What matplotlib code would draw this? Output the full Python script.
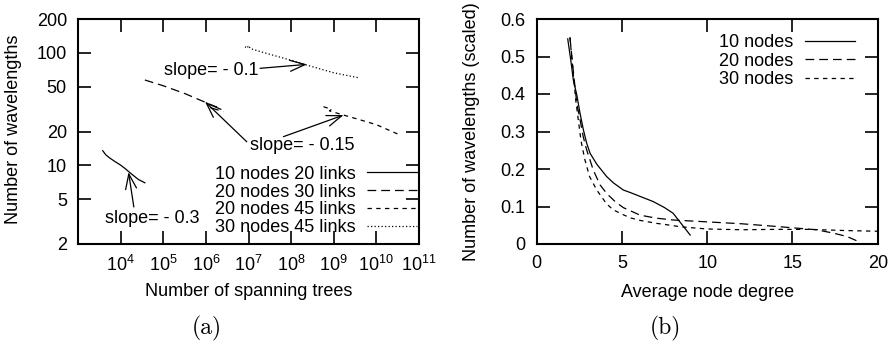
import matplotlib
matplotlib.use("Agg")
import matplotlib.pyplot as plt

plt.rcParams['font.family'] = ['Liberation Sans', 'DejaVu Sans']
plt.rcParams['mathtext.fontset'] = 'custom'
plt.rcParams['mathtext.rm'] = 'Liberation Sans'
plt.rcParams['mathtext.it'] = 'Liberation Sans:italic'
plt.rcParams['mathtext.bf'] = 'Liberation Sans:bold'
plt.rcParams['font.size'] = 13

# ---------------- data: panel (a) ----------------
a_labels = ["10 nodes 20 links", "20 nodes 30 links", "20 nodes 45 links", "30 nodes 45 links"]
a1_x = [3.8e3, 4.5e3, 5.6e3, 7.4e3, 9.8e3, 1.26e4, 1.66e4, 2.1e4, 2.6e4, 3.2e4, 3.7e4]
a1_y = [13.5, 12.4, 11.6, 10.8, 10.1, 9.4, 8.6, 8.0, 7.5, 7.2, 7.0]
a2_x = [3.7e4, 1.0e5, 3.2e5, 8.7e5, 1.1e6, 1.8e6, 1.3e6, 2.6e6]
a2_y = [57.4, 51.0, 43.5, 37.0, 35.5, 33.0, 32.5, 30.0]
a3_x = [5.75e8, 8.9e8, 7.9e8, 1.7e9, 4.0e9, 1.0e10, 2.0e10, 3.6e10]
a3_y = [33.2, 31.5, 30.5, 28.0, 25.5, 23.0, 20.5, 18.6]
a4_x = [8.3e6, 9.3e6, 1.0e7, 1.12e7, 2.0e7, 5.0e7, 1.0e8, 2.3e8, 1.0e9, 3.8e9]
a4_y = [113.5, 110.0, 116.0, 109.0, 102.0, 92.5, 86.0, 78.0, 66.5, 60.1]
a_xticks = [1e4, 1e5, 1e6, 1e7, 1e8, 1e9, 1e10, 1e11]
a_yticks = [2, 5, 10, 20, 50, 100, 200]

# ---------------- data: panel (b) ----------------
b_labels = ["10 nodes", "20 nodes", "30 nodes"]
b1_x = [1.82, 2.0, 2.15, 2.35, 2.54, 2.74, 2.93, 3.13, 3.52, 4.1, 4.5, 5.08, 5.5, 6.06, 6.84, 7.5, 8.0, 8.5, 9.0]
b1_y = [0.547, 0.49, 0.437, 0.398, 0.349, 0.304, 0.269, 0.242, 0.213, 0.18, 0.163, 0.144, 0.137, 0.127, 0.113, 0.097, 0.082, 0.053, 0.024]
b2_x = [1.95, 2.15, 2.35, 2.55, 2.73, 2.93, 3.32, 3.71, 4.1, 4.6, 5.08, 6.06, 7.0, 8.0, 10.0, 12.0, 14.0, 16.4, 17.4, 18.2, 19.0]
b2_y = [0.551, 0.46, 0.375, 0.33, 0.286, 0.251, 0.197, 0.158, 0.135, 0.113, 0.097, 0.077, 0.069, 0.064, 0.059, 0.054, 0.047, 0.038, 0.029, 0.02, 0.004]
b3_x = [1.95, 2.15, 2.3, 2.44, 2.6, 2.83, 3.1, 3.52, 4.1, 4.49, 5.08, 5.47, 6.06, 7.04, 8.0, 8.4, 10.0, 12.0, 14.0, 16.0, 18.0, 20.0]
b3_y = [0.551, 0.45, 0.38, 0.331, 0.275, 0.224, 0.18, 0.144, 0.107, 0.091, 0.078, 0.07, 0.063, 0.055, 0.049, 0.046, 0.04, 0.038, 0.039, 0.039, 0.036, 0.034]
b_xticks = [0, 5, 10, 15, 20]
b_yticks = [0, 0.1, 0.2, 0.3, 0.4, 0.5, 0.6]

W, H = 892, 345
fig = plt.figure(figsize=(W / 100, H / 100), dpi=100)

def px_axes(x0, x1, y0, y1):
    return fig.add_axes([x0 / W, 1 - y1 / H, (x1 - x0) / W, (y1 - y0) / H])

axA = px_axes(78, 419, 19, 244)
axB = px_axes(536.7, 877.7, 19, 244)

styles = [dict(linestyle='-'),
          dict(linestyle=(0, (7, 4))),
          dict(linestyle=(0, (3.5, 3.5))),
          dict(linestyle=(0, (1, 1.8)))]
lw = 0.9

for ax in (axA, axB):
    for s in ax.spines.values():
        s.set_linewidth(1.5)
    ax.tick_params(which='both', direction='in', top=True, right=True,
                   length=9.4, width=1.2, labelsize=13)
    ax.tick_params(which='minor', length=0)

# ---- panel (a)
for xs, ys, lab, st in zip([a1_x, a2_x, a3_x, a4_x], [a1_y, a2_y, a3_y, a4_y], a_labels, styles):
    axA.plot(xs, ys, color='black', lw=lw, label=lab, **st)
axA.set_xscale('log')
axA.set_yscale('log')
axA.set_xlim(1e3, 1e11)
axA.set_ylim(2, 200)
axA.set_xticks(a_xticks)
axA.set_yticks(a_yticks)
axA.set_yticklabels([str(v) for v in a_yticks])
axA.xaxis.set_minor_locator(matplotlib.ticker.NullLocator())
axA.yaxis.set_minor_locator(matplotlib.ticker.NullLocator())
axA.tick_params(axis='x', pad=8)
axA.tick_params(axis='y', pad=8)
axA.set_xlabel("Number of spanning trees")
axA.set_ylabel("Number of wavelengths")
axA.xaxis.set_label_coords(0.5, -0.172)
axA.yaxis.set_label_coords(-0.165, 0.51)

arrow = dict(arrowstyle='->,head_length=0.6,head_width=0.22', lw=0.9, color='black',
             shrinkA=0, shrinkB=0, mutation_scale=18)
# slope = -0.1
axA.text(10**6.13, 69, "slope= - 0.1", ha='center', va='center', fontsize=13)
axA.annotate('', xy=(10**8.37, 79), xytext=(10**7.27, 72.9), arrowprops=arrow)
# slope = -0.15
axA.text(10**8.25, 14.9, "slope= - 0.15", ha='center', va='center', fontsize=13)
axA.annotate('', xy=(10**5.98, 36.8), xytext=(10**6.96, 16.2), arrowprops=arrow)
axA.annotate('', xy=(10**9.23, 28.0), xytext=(10**7.82, 18.0), arrowprops=arrow)
# slope = -0.3
axA.text(10**4.74, 3.4, "slope= - 0.3", ha='center', va='center', fontsize=13)
axA.annotate('', xy=(10**4.185, 8.7), xytext=(10**4.31, 4.27), arrowprops=arrow)

legA = axA.legend(loc='upper right', bbox_to_anchor=(0.994, 0.348), frameon=False,
                  markerfirst=False, borderpad=0, borderaxespad=0,
                  handlelength=2.75, handletextpad=0.65, labelspacing=0.045,
                  fontsize=13)

# ---- panel (b)
for xs, ys, lab, st in zip([b1_x, b2_x, b3_x], [b1_y, b2_y, b3_y], b_labels, styles[:3]):
    axB.plot(xs, ys, color='black', lw=lw, label=lab, **st)
axB.set_xlim(0, 20)
axB.set_ylim(0, 0.6)
axB.set_xticks(b_xticks)
axB.set_yticks(b_yticks)
axB.set_xticklabels([str(v) for v in b_xticks])
axB.set_yticklabels(['0'] + ['%.1f' % v for v in b_yticks[1:]])
axB.tick_params(axis='x', pad=8)
axB.tick_params(axis='y', pad=8.4)
axB.set_xlabel("Average node degree")
axB.set_ylabel("Number of wavelengths (scaled)")
axB.xaxis.set_label_coords(0.5, -0.177)
axB.yaxis.set_label_coords(-0.166, 0.5)
legB = axB.legend(loc='upper right', bbox_to_anchor=(0.933, 0.932), frameon=False,
                  markerfirst=False, borderpad=0, borderaxespad=0,
                  handlelength=2.75, handletextpad=0.65, labelspacing=0.07,
                  fontsize=13)

fig.text(207 / W, 1 - 328 / H, "(a)", family='cmr10', fontsize=17, ha='center', va='center')
fig.text(665 / W, 1 - 328 / H, "(b)", family='cmr10', fontsize=17, ha='center', va='center')

fig.savefig("out.png", dpi=100)
